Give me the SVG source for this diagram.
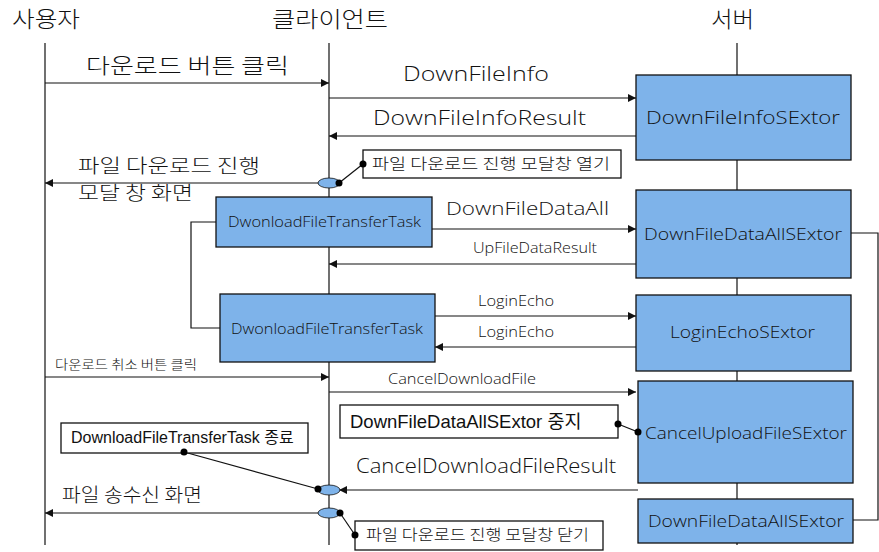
<svg xmlns="http://www.w3.org/2000/svg" width="879" height="552" viewBox="0 0 879 552">
<defs>
<style>
.t{font-family:"Open Sans","Noto Sans CJK KR",sans-serif;font-weight:300;fill:#111}
.k{font-family:"Noto Sans CJK KR",sans-serif;font-weight:300;fill:#111}
.a{font-family:"Liberation Sans","Noto Sans CJK KR",sans-serif;font-weight:400;fill:#111}
.box{fill:#7eb3ea;stroke:#111;stroke-width:1.3}
.note{fill:#fff;stroke:#111;stroke-width:1.3}
.ln{stroke:#111;stroke-width:1.2;fill:none}
.msg{stroke:#111;stroke-width:1.2;fill:none;marker-end:url(#ah)}
.ell{fill:#7eb3ea;stroke:#111;stroke-width:0.8}
.dot{fill:#000}
</style>
<marker id="ah" viewBox="0 0 10 10" refX="10" refY="5" markerWidth="8" markerHeight="8" markerUnits="userSpaceOnUse" orient="auto"><path d="M0,0 L10,5 L0,10 z" fill="#111"/></marker>
</defs>
<rect width="879" height="552" fill="#fff"/>

<g id="lifelines">
<line class="ln" x1="45" y1="43" x2="45" y2="545"/>
<line class="ln" x1="329" y1="43" x2="329" y2="545"/>
<line class="ln" x1="737" y1="43" x2="737" y2="545"/>
</g>

<g id="headers">
<text class="k" x="12" y="27" font-size="22" textLength="68" lengthAdjust="spacingAndGlyphs">사용자</text>
<text class="k" x="272" y="27" font-size="22" textLength="116" lengthAdjust="spacingAndGlyphs">클라이언트</text>
<text class="k" x="711" y="27" font-size="22" textLength="43" lengthAdjust="spacingAndGlyphs">서버</text>
</g>

<g id="connectors">
<line class="msg" x1="45" y1="83" x2="329" y2="83"/>
<line class="msg" x1="329" y1="98" x2="636" y2="98"/>
<line class="msg" x1="636" y1="136" x2="329" y2="136"/>
<line class="msg" x1="319" y1="183" x2="45" y2="183"/>
<line class="ln" x1="339" y1="183" x2="363" y2="164"/>
<line class="msg" x1="432" y1="229" x2="636" y2="229"/>
<line class="msg" x1="636" y1="264" x2="329" y2="264"/>
<polyline class="ln" points="216,222 191,222 191,328 220,328"/>
<line class="msg" x1="435" y1="316" x2="636" y2="316"/>
<line class="msg" x1="636" y1="347" x2="435" y2="347"/>
<line class="msg" x1="45" y1="377" x2="329" y2="377"/>
<line class="msg" x1="329" y1="392" x2="636" y2="392"/>
<line class="ln" x1="618" y1="424" x2="638" y2="432"/>
<line class="msg" x1="638" y1="490" x2="339" y2="490"/>
<line class="ln" x1="184" y1="452" x2="318" y2="489"/>
<line class="msg" x1="319" y1="513" x2="45" y2="513"/>
<line class="ln" x1="340" y1="513" x2="355" y2="535"/>
<polyline class="ln" points="851,233 878,233 878,520 853,520"/>
</g>

<g id="labels">
<text class="k" x="86" y="73" font-size="21" textLength="203" lengthAdjust="spacingAndGlyphs">다운로드 버튼 클릭</text>
<text class="t" x="403" y="81" font-size="20" textLength="146" lengthAdjust="spacingAndGlyphs">DownFileInfo</text>
<text class="t" x="373" y="125" font-size="20" textLength="213" lengthAdjust="spacingAndGlyphs">DownFileInfoResult</text>
<text class="k" x="78" y="173" font-size="19" textLength="182" lengthAdjust="spacingAndGlyphs">파일 다운로드 진행</text>
<text class="k" x="78" y="200" font-size="19" textLength="115" lengthAdjust="spacingAndGlyphs">모달 창 화면</text>
<text class="t" x="446" y="215" font-size="19" textLength="163" lengthAdjust="spacingAndGlyphs">DownFileDataAll</text>
<text class="t" x="473" y="253" font-size="15" textLength="124" lengthAdjust="spacingAndGlyphs">UpFileDataResult</text>
<text class="t" x="478" y="306" font-size="15" textLength="76" lengthAdjust="spacingAndGlyphs">LoginEcho</text>
<text class="t" x="478" y="337" font-size="15" textLength="76" lengthAdjust="spacingAndGlyphs">LoginEcho</text>
<text class="k" x="55" y="369" font-size="13" textLength="142" lengthAdjust="spacingAndGlyphs">다운로드 취소 버튼 클릭</text>
<text class="t" x="388" y="384" font-size="15" textLength="148" lengthAdjust="spacingAndGlyphs">CancelDownloadFile</text>
<text class="t" x="356" y="473" font-size="20" textLength="260" lengthAdjust="spacingAndGlyphs">CancelDownloadFileResult</text>
<text class="k" x="62" y="502" font-size="19" textLength="140" lengthAdjust="spacingAndGlyphs">파일 송수신 화면</text>
</g>

<g id="n-downfileinfo-sextor">
<rect class="box" x="636" y="75" width="215" height="85"/>
<text class="t" x="646" y="124" font-size="19" textLength="194" lengthAdjust="spacingAndGlyphs">DownFileInfoSExtor</text>
</g>

<g id="n-note-open">
<rect class="note" x="363" y="150" width="258" height="28"/>
<text class="k" x="372" y="169" font-size="15" textLength="238" lengthAdjust="spacingAndGlyphs">파일 다운로드 진행 모달창 열기</text>
</g>

<g id="n-ell-1">
<ellipse class="ell" cx="329" cy="183" rx="11" ry="5"/>
<circle class="dot" cx="339" cy="183" r="3.5"/>
<circle class="dot" cx="363" cy="164" r="3.5"/>
</g>

<g id="n-task-1">
<rect class="box" x="216" y="197" width="216" height="50"/>
<text class="t" x="228" y="227" font-size="15" textLength="193" lengthAdjust="spacingAndGlyphs">DwonloadFileTransferTask</text>
</g>

<g id="n-downfiledataall-sextor">
<rect class="box" x="636" y="190" width="215" height="88"/>
<text class="t" x="644" y="240" font-size="17" textLength="198" lengthAdjust="spacingAndGlyphs">DownFileDataAllSExtor</text>
</g>

<g id="n-task-2">
<rect class="box" x="220" y="294" width="215" height="68"/>
<text class="t" x="231" y="334" font-size="15" textLength="192" lengthAdjust="spacingAndGlyphs">DwonloadFileTransferTask</text>
</g>

<g id="n-loginecho-sextor">
<rect class="box" x="636" y="295" width="215" height="76"/>
<text class="t" x="670" y="338" font-size="17" textLength="145" lengthAdjust="spacingAndGlyphs">LoginEchoSExtor</text>
</g>

<g id="n-cancelupload-sextor">
<rect class="box" x="638" y="381" width="215" height="102"/>
<text class="t" x="645" y="439" font-size="17" textLength="202" lengthAdjust="spacingAndGlyphs">CancelUploadFileSExtor</text>
<circle class="dot" cx="638" cy="432" r="3.5"/>
</g>

<g id="n-note-stop">
<rect class="note" x="340" y="405" width="278" height="33"/>
<text class="a" x="350" y="428" font-size="18.5">DownFileDataAllSExtor 중지</text>
<circle class="dot" cx="618" cy="424" r="3.5"/>
</g>

<g id="n-note-end">
<rect class="note" x="61" y="423" width="247" height="30"/>
<text class="a" x="71" y="443" font-size="16">DownloadFileTransferTask 종료</text>
<circle class="dot" cx="184" cy="452" r="3.5"/>
</g>

<g id="n-ell-2">
<ellipse class="ell" cx="329" cy="490" rx="11" ry="5"/>
<circle class="dot" cx="318" cy="489" r="3.5"/>
</g>

<g id="n-ell-3">
<ellipse class="ell" cx="329" cy="513" rx="11" ry="5"/>
<circle class="dot" cx="340" cy="513" r="3.5"/>
</g>

<g id="n-note-close">
<rect class="note" x="355" y="521" width="248" height="29"/>
<text class="k" x="366" y="540" font-size="15" textLength="223" lengthAdjust="spacingAndGlyphs">파일 다운로드 진행 모달창 닫기</text>
<circle class="dot" cx="355" cy="535" r="3.5"/>
</g>

<g id="n-downfiledataall-sextor-2">
<rect class="box" x="638" y="499" width="215" height="44"/>
<text class="t" x="648" y="527" font-size="17" textLength="196" lengthAdjust="spacingAndGlyphs">DownFileDataAllSExtor</text>
</g>
</svg>
